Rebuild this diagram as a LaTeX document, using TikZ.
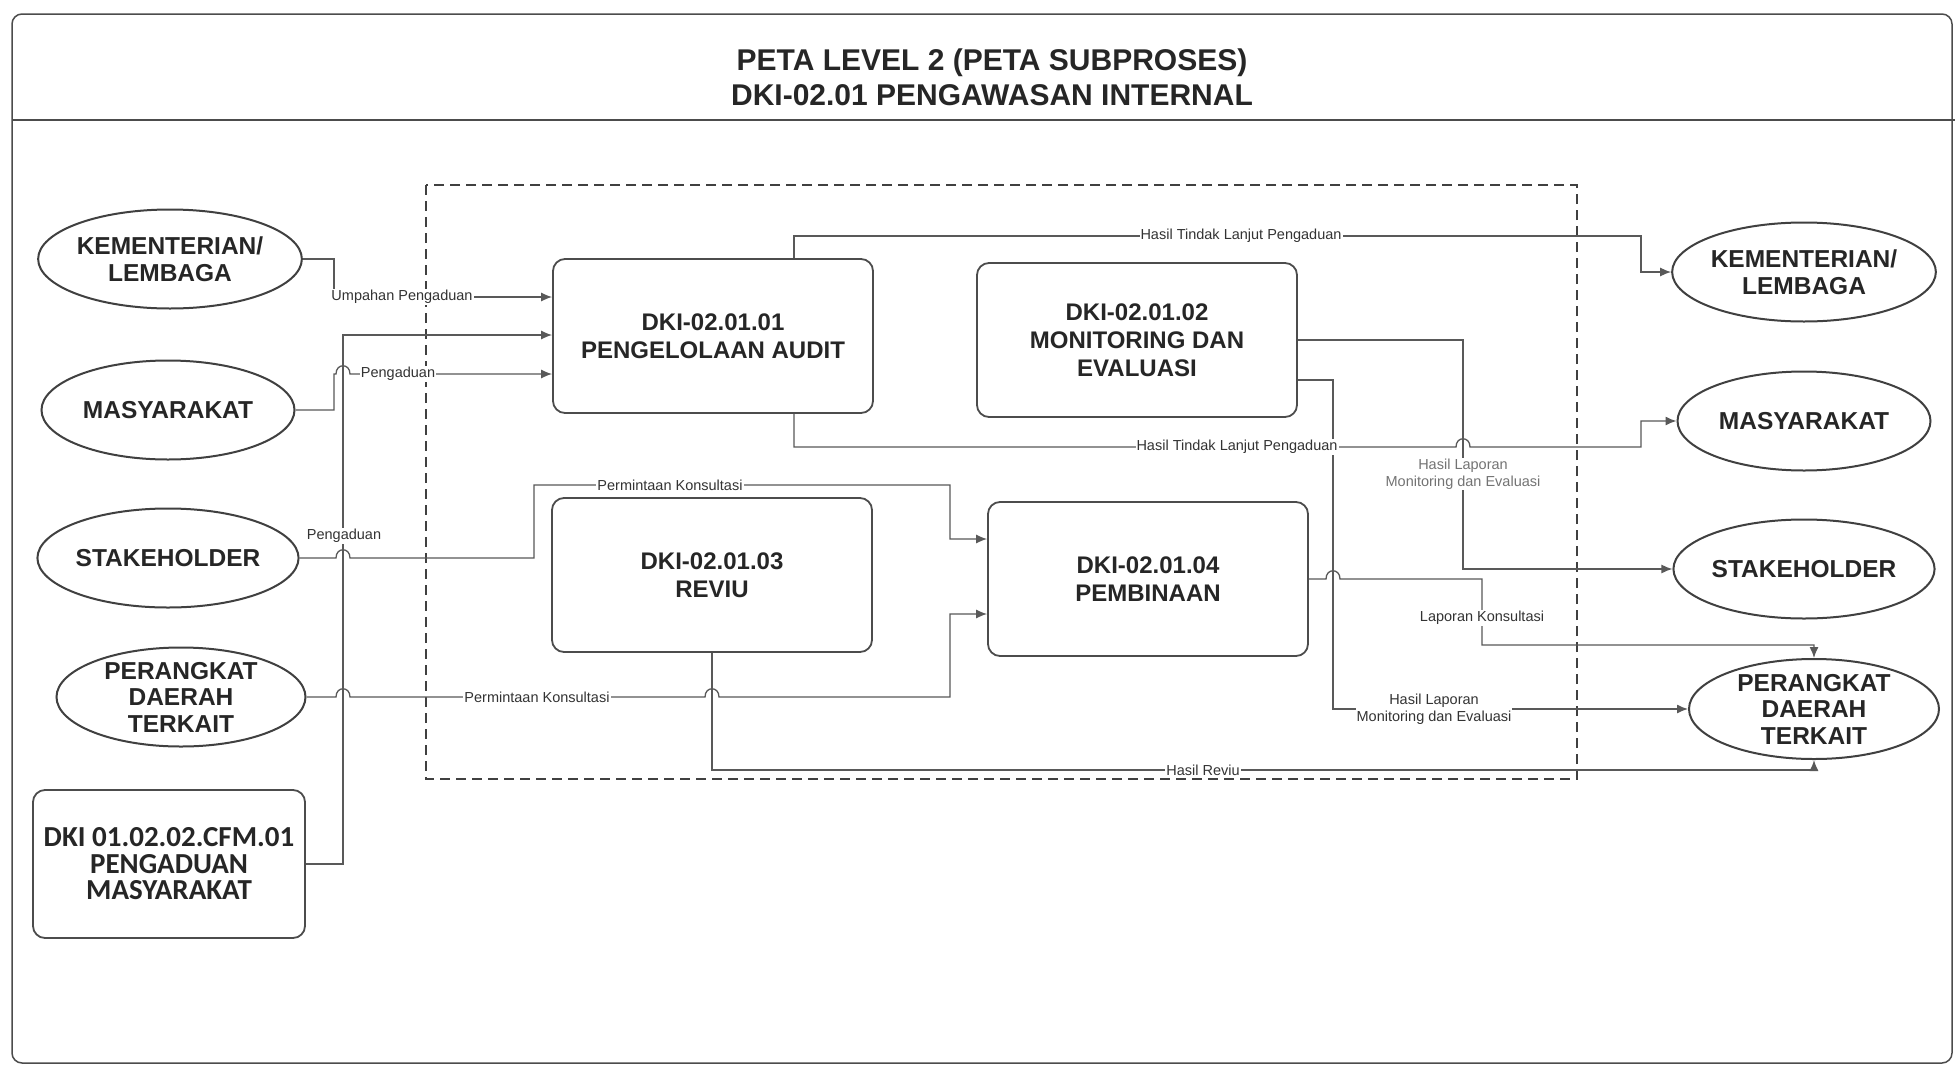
\documentclass[tikz,border=0pt]{standalone}
\usepackage{fontspec}
\setmainfont{Liberation Sans}
\newfontfamily\calfont{Carlito}
\usetikzlibrary{shapes.geometric,arrows.meta}

\begin{document}
\begin{tikzpicture}[x=1pt,y=-1pt,
ell/.style={ellipse, draw=black!75, line width=2pt, fill=white, minimum width=253pt, minimum height=99pt, inner sep=0pt, align=center, text=black!85, font=\bfseries\fontsize{24.5}{26.5}\selectfont},
proses/.style={rectangle, rounded corners=12pt, draw=black!70, line width=1.8pt, fill=white, minimum width=320pt, minimum height=154pt, align=center, text=black!85, font=\bfseries\fontsize{24}{28}\selectfont},
dkibox/.style={proses, minimum width=272pt, minimum height=148pt, font=\calfont\bfseries\fontsize{29}{26.5}\selectfont},
lbl/.style={fill=white, inner sep=1pt, align=center, text=black!80, font=\fontsize{14.5}{17}\selectfont},
pfeil/.style={draw=black!65, line width=1.3pt, -{Latex[length=11pt,width=9pt]}},
batas/.style={draw=black!75, line width=1.4pt, dash pattern=on 10pt off 6pt},
hop/.style args={#1/#2}{insert path={-- ({#1-7},#2) .. controls ({#1-7},{#2-11}) and ({#1+7},{#2-11}) .. ({#1+7},#2)}},
]

\path[use as bounding box, fill=white] (0,0) rectangle (1955,1071);

% Rahmen und Titel
\draw[black!70, line width=1.5pt, rounded corners=10pt] (12,14) rectangle (1952,1063);
\draw[black!70, line width=1.5pt] (12,120) -- (1955,120);
\node[font=\bfseries\fontsize{30}{35}\selectfont, align=center, text=black!85] (judul) at (992,77) {PETA LEVEL 2 (PETA SUBPROSES)\\DKI-02.01 PENGAWASAN INTERNAL};

% Subproses-Bereich
\draw[batas] (426,185) rectangle (1577,779);

% links
\node[ell] (kl1) at (170,259) {KEMENTERIAN/\\LEMBAGA};
\node[ell] (mas1) at (168,410) {MASYARAKAT};
\node[ell] (stk1) at (168,558) {STAKEHOLDER};
\node[ell, minimum width=249pt, inner ysep=-6pt] (pdt1) at (181,697) {PERANGKAT\\DAERAH\\TERKAIT};
\node[dkibox] (pm) at (169,864) {DKI 01.02.02.CFM.01\\PENGADUAN\\MASYARAKAT};

% Subprozesse
\node[proses] (audit) at (713,336) {DKI-02.01.01\\PENGELOLAAN AUDIT};
\node[proses] (monev) at (1137,340) {DKI-02.01.02\\MONITORING DAN\\EVALUASI};
\node[proses] (reviu) at (712,575) {DKI-02.01.03\\REVIU};
\node[proses] (bina) at (1148,579) {DKI-02.01.04\\PEMBINAAN};

% rechts
\node[ell] (kl2) at (1804,272) {KEMENTERIAN/\\LEMBAGA};
\node[ell] (mas2) at (1804,421) {MASYARAKAT};
\node[ell] (stk2) at (1804,569) {STAKEHOLDER};
\node[ell, minimum width=250pt, minimum height=100pt, inner ysep=-6pt] (pdt2) at (1814,709) {PERANGKAT\\DAERAH\\TERKAIT};

% Knickpunkte
\coordinate (k1) at (334,297);
\coordinate (k2) at (334,374);
\coordinate (k3) at (343,335);
\coordinate (k4a) at (534,485);
\coordinate (k4b) at (950,539);
\coordinate (k5) at (950,614);
\coordinate (k6) at (1641,236);
\coordinate (k7a) at (1300,447);
\coordinate (k7) at (1641,447);
\coordinate (k8) at (1463,450);
\coordinate (k9) at (1333,709);
\coordinate (k10) at (1482,645);
\coordinate (k11) at (1300,770);

% Eingaenge
\draw[pfeil] (kl1.east) -| (k1) -- (k1 -| audit.west);
\draw[pfeil] (mas1.east) -| (k2) [hop=343/374] -- (k2 -| audit.west);
\draw[pfeil] (pm.east) -| (k3) -- (k3 -| audit.west);
\draw[pfeil] (stk1.east) [hop=343/558] -| (k4a) -| (k4b) -- (k4b -| bina.west);
\draw[pfeil] (pdt1.east) [hop=343/697] [hop=712/697] -| (k5) -- (k5 -| bina.west);

% Ausgaenge
\draw[pfeil] ([xshift=81pt]audit.north) |- (k6) |- (kl2.west);
\draw[pfeil] ([xshift=81pt]audit.south) |- (k7a) [hop=1463/447] -- (k7) |- (mas2.west);
\draw[pfeil] (monev.east) -| (k8) |- (stk2.west);
\draw[pfeil] ([yshift=-40pt]monev.east) -| (k9) -- (k9 -| pdt2.west);
\draw[pfeil] (bina.east) [hop=1333/579] -| (k10) -| (pdt2.north);
\draw[pfeil] (reviu.south) |- (k11) -| (pdt2.south);

% Beschriftungen
\node[lbl] (l1) at (402,297) {Umpahan Pengaduan};
\node[lbl] (l2) at (398,374) {Pengaduan};
\node[lbl] (l3) at (344,536) {Pengaduan};
\node[lbl] (l4) at (670,485) {Permintaan Konsultasi};
\node[lbl] (l5) at (537,697) {Permintaan Konsultasi};
\node[lbl] (l6) at (1241,236) {Hasil Tindak Lanjut Pengaduan};
\node[lbl] (l7) at (1237,447) {Hasil Tindak Lanjut Pengaduan};
\node[lbl, text=black!55] (l8) at (1463,474) {Hasil Laporan\\Monitoring dan Evaluasi};
\node[lbl] (l9) at (1434,709) {Hasil Laporan\\Monitoring dan Evaluasi};
\node[lbl] (l10) at (1482,618) {Laporan Konsultasi};
\node[lbl] (l11) at (1203,770) {Hasil Reviu};

\end{tikzpicture}
\end{document}
